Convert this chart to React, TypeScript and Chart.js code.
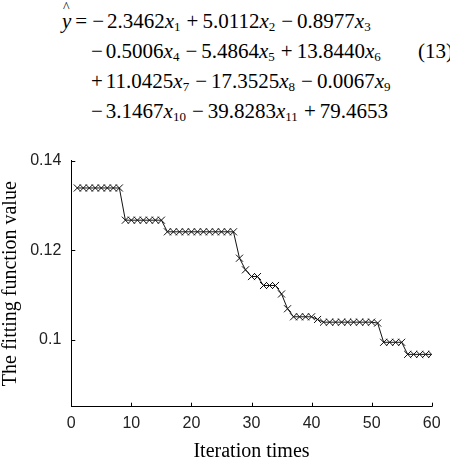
import React, { useEffect, useRef } from "react";
import { Chart, registerables } from "chart.js";

Chart.register(...registerables);

// Regression equation (13)
const coefficients = [
  -2.3462, 5.0112, -0.8977, -0.5006, -5.4864, 13.844, 11.0425, -17.3525, -0.0067, -3.1467, -39.8283,
];
const intercept = 79.4653;
const equationRows = [
  [0, 1, 2],
  [3, 4, 5],
  [6, 7, 8],
  [9, 10],
];
const equationNumber = "(13)";

// Convergence curve
const iterations = [
  1, 2, 3, 4, 5, 6, 7, 8, 9, 10, 11, 12, 13, 14, 15, 16, 17, 18, 19, 20, 21, 22, 23, 24, 25, 26, 27, 28, 29, 30,
  31, 32, 33, 34, 35, 36, 37, 38, 39, 40, 41, 42, 43, 44, 45, 46, 47, 48, 49, 50, 51, 52, 53, 54, 55, 56, 57, 58,
  59, 60,
];
const fittingValues = [
  0.1339, 0.1339, 0.1339, 0.1339, 0.1339, 0.1339, 0.1339, 0.1339,
  0.1267, 0.1267, 0.1267, 0.1267, 0.1267, 0.1267, 0.1267,
  0.1241, 0.1241, 0.1241, 0.1241, 0.1241, 0.1241, 0.1241, 0.1241, 0.1241, 0.1241, 0.1241, 0.1241,
  0.1182, 0.1156, 0.1141, 0.1141, 0.1121, 0.1121, 0.1121, 0.1102, 0.1069,
  0.1051, 0.1051, 0.1051, 0.1051, 0.1045,
  0.1039, 0.1039, 0.1039, 0.1039, 0.1039, 0.1039, 0.1039, 0.1039, 0.1039, 0.1037,
  0.0994, 0.0994, 0.0994, 0.0994,
  0.0967, 0.0967, 0.0967, 0.0967, 0.0967,
];
const xRange = [0, 60];
const xTickStep = 10;
const yRange = [0.085, 0.14];
const yTickValues = [0.1, 0.12, 0.14];
const xTitle = "Iteration times";
const yTitle = "The fitting function value";

const SERIF = '"Liberation Serif", "Times New Roman", serif';
const SANS = '"Liberation Sans", Arial, sans-serif';
const EQ_SIZE = 21;

// Short tick marks pointing into the plot area
const inwardTicks = {
  id: "inwardTicks",
  afterDraw(chart: any) {
    const { ctx, chartArea } = chart;
    const xs = chart.scales.x;
    const ys = chart.scales.y;
    ctx.save();
    ctx.strokeStyle = "#000";
    ctx.lineWidth = 1;
    ctx.beginPath();
    xs.ticks.forEach((t: any) => {
      const px = Math.round(xs.getPixelForValue(t.value)) + 0.5;
      ctx.moveTo(px, chartArea.bottom);
      ctx.lineTo(px, chartArea.bottom - 4);
    });
    ys.ticks.forEach((t: any) => {
      const py = Math.round(ys.getPixelForValue(t.value)) + 0.5;
      ctx.moveTo(chartArea.left, py);
      ctx.lineTo(chartArea.left + 4, py);
    });
    ctx.stroke();
    ctx.restore();
  },
};

function Term({ index, first }: { index: number; first: boolean }) {
  const c = coefficients[index];
  const sign = c < 0 ? "\u2212" : "+";
  return (
    <>
      <span style={{ margin: first ? "0 3px 0 0" : "0 4px 0 6px" }}>{sign}</span>
      <span>{Math.abs(c).toFixed(4)}</span>
      <span style={{ fontStyle: "italic" }}>x</span>
      <span style={{ fontSize: 13, position: "relative", top: 3, lineHeight: 0 }}>{index + 1}</span>
    </>
  );
}

function Equation() {
  const rowStyle = (i: number): React.CSSProperties => ({
    position: "absolute",
    left: i === 0 ? 62 : 91,
    top: 6 + 30 * i,
    whiteSpace: "nowrap",
    fontFamily: SERIF,
    fontSize: EQ_SIZE,
    lineHeight: "30px",
    color: "#000",
  });
  return (
    <>
      {equationRows.map((row, i) => (
        <div key={i} style={rowStyle(i)}>
          {i === 0 && (
            <>
              <span style={{ position: "relative", fontStyle: "italic" }}>
                y
                <span
                  style={{
                    position: "absolute",
                    left: 1,
                    top: -8,
                    fontStyle: "normal",
                    fontSize: 14,
                    lineHeight: "14px",
                  }}
                >
                  ^
                </span>
              </span>
              <span style={{ margin: "0 5px 0 4px" }}>=</span>
            </>
          )}
          {row.map((k, j) => (
            <Term key={k} index={k} first={j === 0} />
          ))}
          {i === equationRows.length - 1 && (
            <>
              <span style={{ margin: "0 4px 0 6px" }}>{intercept < 0 ? "\u2212" : "+"}</span>
              <span>{Math.abs(intercept).toFixed(4)}</span>
            </>
          )}
        </div>
      ))}
      <div
        style={{
          position: "absolute",
          left: 418,
          top: 36,
          fontFamily: SERIF,
          fontSize: EQ_SIZE,
          lineHeight: "30px",
          whiteSpace: "nowrap",
        }}
      >
        {equationNumber}
      </div>
    </>
  );
}

export default function App() {
  const canvasRef = useRef<HTMLCanvasElement>(null);

  useEffect(() => {
    const chart = new Chart(canvasRef.current as HTMLCanvasElement, {
      type: "line",
      data: {
        datasets: [
          {
            data: iterations.map((x, i) => ({ x, y: fittingValues[i] })),
            borderColor: "#111",
            borderWidth: 1,
            pointStyle: "crossRot",
            pointRadius: 5,
            pointBorderColor: "#111",
            pointBorderWidth: 1,
            pointBackgroundColor: "#111",
            tension: 0,
            fill: false,
          },
        ],
      },
      options: {
        responsive: false,
        animation: false,
        devicePixelRatio: 1,
        layout: { padding: { top: 30.7, right: 18.3, left: 0, bottom: 0 } },
        plugins: { legend: { display: false }, tooltip: { enabled: false } },
        scales: {
          x: {
            type: "linear",
            min: xRange[0],
            max: xRange[1],
            grid: { display: false, drawTicks: false },
            border: { display: true, color: "#000", width: 1 },
            ticks: {
              stepSize: xTickStep,
              padding: 7,
              maxRotation: 0,
              color: "#222",
              font: { family: SANS, size: 16 },
            },
            title: {
              display: true,
              text: xTitle,
              color: "#000",
              font: { family: SERIF, size: 20 },
              padding: { top: 0, bottom: 4 },
            },
            afterFit(scale: any) {
              scale.height = 61.3;
            },
          },
          y: {
            type: "linear",
            min: yRange[0],
            max: yRange[1],
            grid: { display: false, drawTicks: false },
            border: { display: true, color: "#000", width: 1 },
            afterBuildTicks(scale: any) {
              scale.ticks = yTickValues.map((value) => ({ value }));
            },
            ticks: {
              padding: 10,
              color: "#222",
              font: { family: SANS, size: 16 },
              callback: (v: any) => String(v),
            },
            title: {
              display: true,
              text: yTitle,
              color: "#000",
              font: { family: SERIF, size: 20 },
              padding: { top: -1, bottom: 0 },
            },
            afterFit(scale: any) {
              scale.width = 71.3;
            },
          },
        },
      },
      plugins: [inwardTicks],
    });
    return () => chart.destroy();
  }, []);

  return (
    <div
      style={{
        position: "absolute",
        left: 0,
        top: 0,
        width: 450,
        height: 468,
        overflow: "hidden",
        background: "#fff",
      }}
    >
      <Equation />
      <canvas
        ref={canvasRef}
        width={450}
        height={338}
        style={{ position: "absolute", left: 0, top: 130, width: 450, height: 338 }}
      />
    </div>
  );
}
